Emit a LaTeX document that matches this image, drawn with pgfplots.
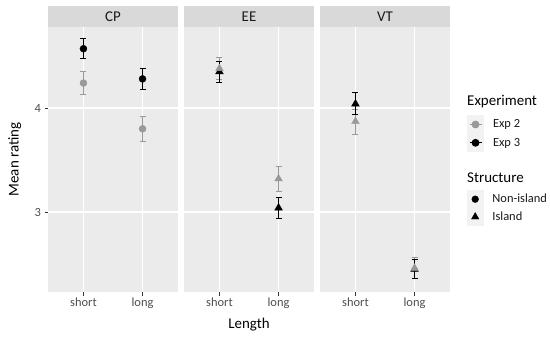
\documentclass[border=0pt]{standalone}
\usepackage{fontspec}
\setmainfont{Carlito}
\usepackage{pgfplots}
\pgfplotsset{compat=1.18}
\definecolor{panelbg}{HTML}{EBEBEB}
\definecolor{stripbg}{HTML}{D9D9D9}
\definecolor{keybg}{HTML}{F2F2F2}
\definecolor{ptgrey}{HTML}{999999}
\definecolor{ticklab}{HTML}{4D4D4D}
\definecolor{tickc}{HTML}{333333}
\definecolor{striptxt}{HTML}{1A1A1A}
\pgfplotsset{
  panel/.style={
    scale only axis, width=130bp, height=265bp,
    xmin=0.4, xmax=2.6, ymin=2.231, ymax=4.779,
    axis background/.style={fill=panelbg},
    axis line style={draw=none},
    xtick={1,2}, xticklabels={short,long},
    ytick={3,4},
    grid=major, major grid style={white, line width=1.1bp},
    tick style={color=tickc, line width=0.5bp},
    major tick length=3.5bp, tick align=outside, tick pos=left,
    ticklabel style={font=\fontsize{12.5}{12.5}\selectfont, color=ticklab},
    xticklabel style={yshift=1bp},
    /pgf/number format/assume math mode=true,
    clip=false,
  },
  eb/.style={forget plot, draw=none, mark=none,
    error bars/.cd, y dir=both, y explicit, error mark=|,
    error bar style={draw=#1, line width=1bp},
    error mark options={draw=#1, solid, mark size=3bp, line width=1bp}},
  pt/.style 2 args={forget plot, only marks, mark=#1, color=#2, mark size=3.5bp},
  tri/.style={forget plot, only marks, mark=triangle*, color=#1, mark size=4.4bp},
  keyline/.style={legend image code/.code={
      \fill[keybg] (-8bp,-8.65bp) rectangle (8bp,8.65bp);
      \draw[##1,mark=none] (-6bp,0bp) -- (6bp,0bp);
      \draw[##1,only marks] plot coordinates {(0bp,0bp)};}},
  keymark/.style={legend image code/.code={
      \fill[keybg] (-8bp,-8.65bp) rectangle (8bp,8.65bp);
      \draw[##1,only marks] plot coordinates {(0bp,0bp)};}},
  legstyle/.style={legend style={draw=none, fill=none, inner sep=0pt, outer sep=0pt,
      row sep=0pt, nodes={inner sep=0pt, font=\fontsize{12.5}{12.5}\selectfont, text=striptxt},
      /tikz/every odd column/.append style={column sep=9bp}},
      legend cell align=left},
}
\newcommand{\strip}[1]{%
  \fill[stripbg] (rel axis cs:0,1) rectangle ([yshift=21bp]rel axis cs:1,1);
  \node[font=\fontsize{15}{15}\selectfont, text=striptxt] at ([yshift=10.5bp]rel axis cs:0.5,1) {#1};}
\begin{document}
\begin{tikzpicture}[x=1bp,y=1bp]
\path[use as bounding box] (0,0) rectangle (550,339);
% CP
\begin{axis}[panel, at={(48bp,47bp)}, anchor=south west,
  ylabel={Mean rating},
  ylabel style={at={(axis description cs:-0.255,0.5)}, anchor=center, font=\fontsize{15}{15}\selectfont, text=black}]
\strip{CP}
\addplot[eb=ptgrey] coordinates {(1,4.24) +- (0,0.108) (2,3.80) +- (0,0.12)};
\addplot[eb=black] coordinates {(1,4.57) +- (0,0.095) (2,4.28) +- (0,0.098)};
\addplot[pt={*}{black}] coordinates {(1,4.57) (2,4.28)};
\addplot[pt={*}{ptgrey}] coordinates {(1,4.24) (2,3.80)};
\end{axis}
% EE
\begin{axis}[panel, at={(184bp,47bp)}, anchor=south west,
  yticklabels={}, ytick style={draw=none},
  xlabel={Length},
  xlabel style={at={(axis description cs:0.5,-0.1245)}, anchor=center, font=\fontsize{15}{15}\selectfont, text=black},
  legstyle, legend style={at={(2.1769,0.3836)}, anchor=north west}]
\strip{EE}
\addplot[eb=ptgrey] coordinates {(1,4.38) +- (0,0.11) (2,3.32) +- (0,0.12)};
\addplot[eb=black] coordinates {(1,4.35) +- (0,0.10) (2,3.04) +- (0,0.10)};
\addplot[tri=black] coordinates {(1,4.35) (2,3.04)};
\addplot[tri=ptgrey] coordinates {(1,4.38) (2,3.32)};
\addlegendimage{keymark, black, mark=*, mark size=3.4bp}
\addlegendentry{Non-island}
\addlegendimage{keymark, black, mark=triangle*, mark size=4.3bp}
\addlegendentry{Island}
\end{axis}
% VT
\begin{axis}[panel, at={(320bp,47bp)}, anchor=south west,
  yticklabels={}, ytick style={draw=none},
  legstyle, legend style={at={(1.1308,0.6666)}, anchor=north west}]
\strip{VT}
\addplot[eb=ptgrey] coordinates {(1,3.87) +- (0,0.12) (2,2.46) +- (0,0.10)};
\addplot[eb=black] coordinates {(1,4.04) +- (0,0.105) (2,2.45) +- (0,0.09)};
\addplot[tri=black] coordinates {(1,4.04) (2,2.45)};
\addplot[tri=ptgrey] coordinates {(1,3.87) (2,2.46)};
\addlegendimage{keyline, ptgrey, line width=1bp, mark=*, mark size=3.4bp}
\addlegendentry{Exp 2}
\addlegendimage{keyline, black, line width=1bp, mark=*, mark size=3.4bp}
\addlegendentry{Exp 3}
\end{axis}
\node[anchor=west, font=\fontsize{15}{15}\selectfont, text=black, inner sep=0pt] at (467,237) {Experiment};
\node[anchor=west, font=\fontsize{15}{15}\selectfont, text=black, inner sep=0pt] at (467,161) {Structure};
\end{tikzpicture}
\end{document}
